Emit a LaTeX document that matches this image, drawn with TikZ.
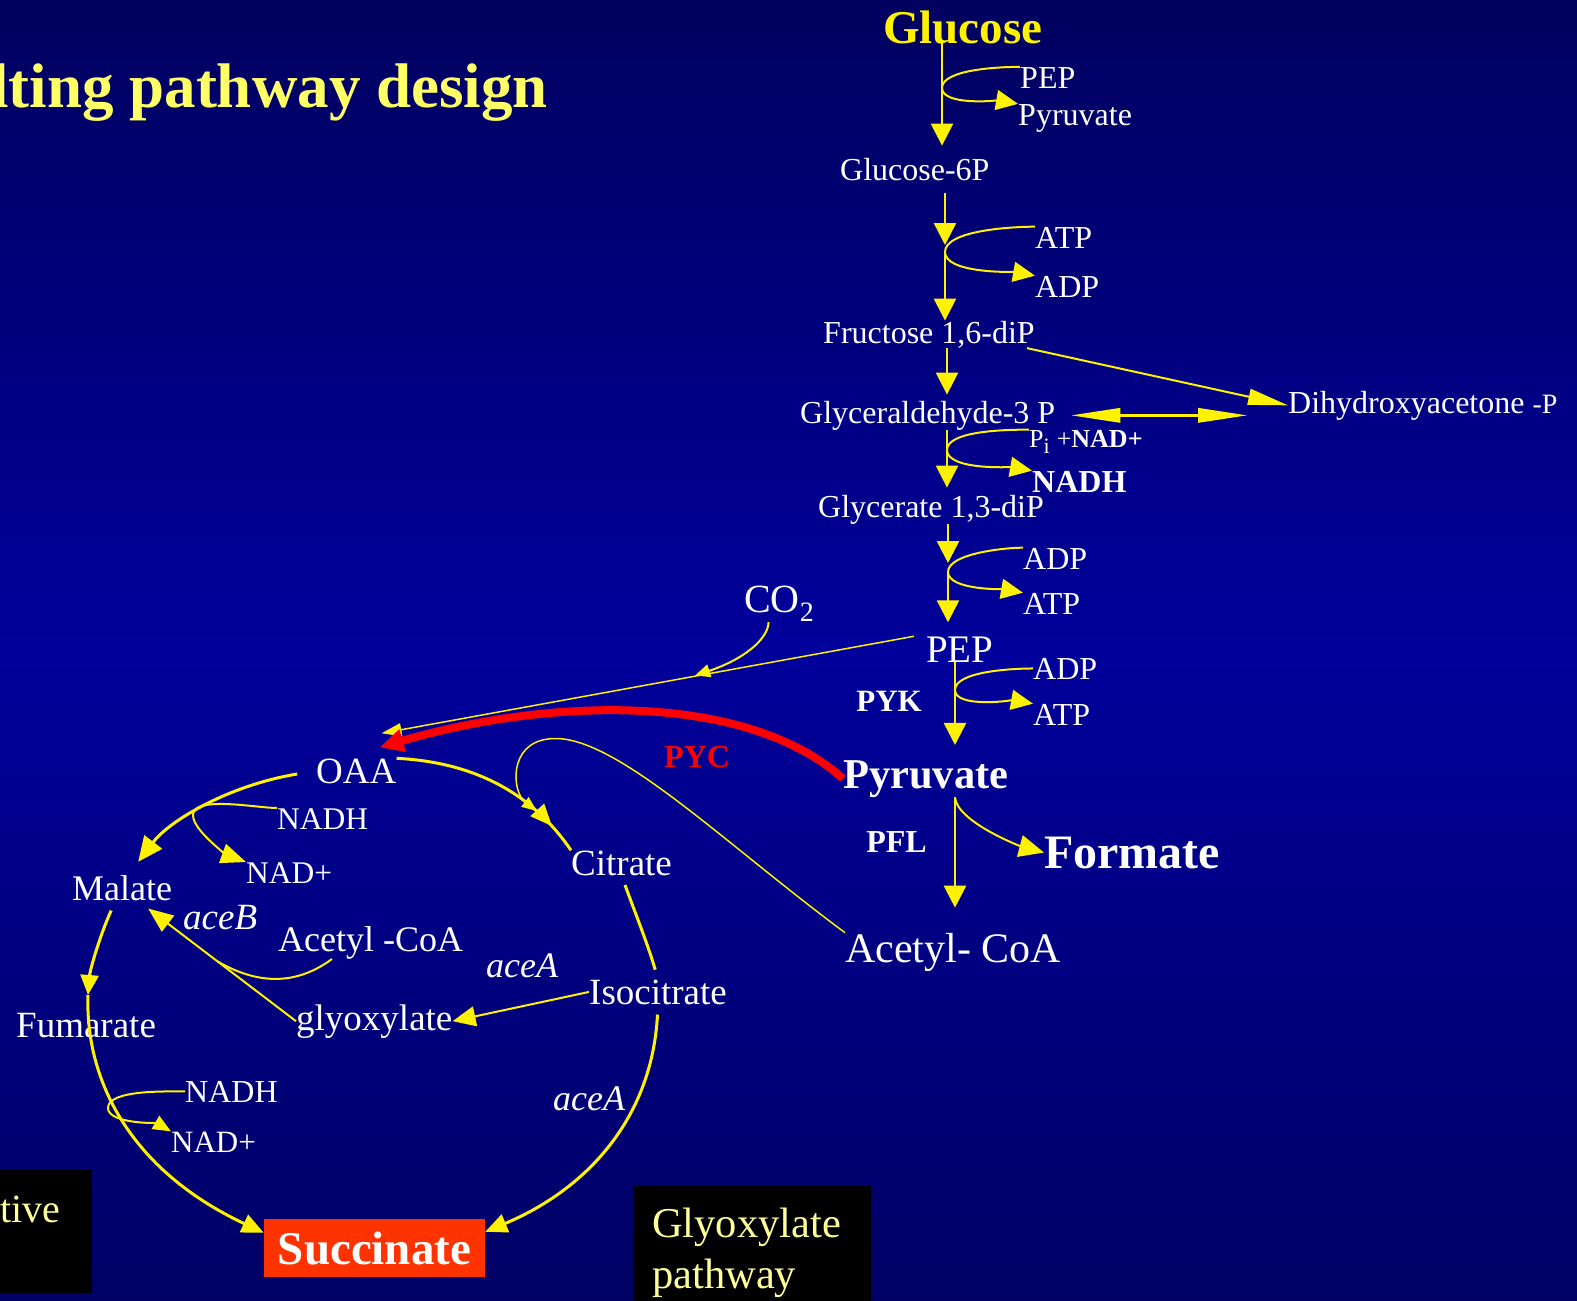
\documentclass[tikz,border=0pt]{standalone}
\usepackage{fontspec}
\setmainfont{Liberation Serif}
\usepackage{xcolor}
\usepackage{tikz}
\usetikzlibrary{arrows.meta,decorations.markings}
\definecolor{bgtop}{RGB}{0,0,95}
\definecolor{bgmid}{RGB}{0,0,155}
\definecolor{bgbot}{RGB}{0,0,100}
\definecolor{ttl}{RGB}{255,255,102}
\definecolor{boxtext}{RGB}{255,255,153}
\definecolor{succred}{RGB}{255,51,0}

\begin{document}
\begin{tikzpicture}[x=1pt,y=1pt,
	lbl/.style={font=\fontsize{#1}{#1}\selectfont,text=white,inner sep=0pt,anchor=base west},
	bld/.style={font=\fontsize{#1}{#1}\selectfont\bfseries,text=white,inner sep=0pt,anchor=base west},
	gene/.style={font=\fontsize{#1}{#1}\selectfont\itshape,text=white,inner sep=0pt,anchor=base west},
	flow/.style={yellow,line width=2.5pt,-{Triangle[length=22pt,width=22pt]}},
	side/.style={yellow,line width=2pt,looseness=0.6,-{Triangle[length=22pt,width=20pt]}},
	fine/.style={yellow,line width=1.5pt},
	cyc/.style={yellow,line width=3pt,-{Triangle[length=22pt,width=19pt]}},
	midtip/.style={postaction={decorate},decoration={markings,mark=at position #1 with {\arrow{Triangle[length=22pt,width=18pt]}}}}]
	\useasboundingbox (0,0) rectangle (1577,-1301);
	\shade[top color=bgtop,bottom color=bgbot,middle color=bgmid] (0,0) rectangle (1577,-1301);

	% title and boxes
	\node[bld=63,text=ttl] (title) at (-9,-107) {lting pathway design};
	\node[fill=black,minimum width=92pt,minimum height=123pt,inner sep=0pt,anchor=north west] (altbox) at (0,-1170) {};
	\node[lbl=40,text=boxtext] (alt) at (0,-1222) {tive};
	\node[fill=black,minimum width=238pt,minimum height=130pt,inner sep=0pt,anchor=north west] (gbox) at (633,-1186) {};
	\node[lbl=42.5,text=boxtext] (glyA) at (652,-1237) {Glyoxylate};
	\node[lbl=42.5,text=boxtext] (glyB) at (652,-1288) {pathway};

	% glycolysis
	\node[bld=47,text=yellow] (glc) at (883,-43) {Glucose};
	\node[lbl=32] (pep1) at (1020,-88) {PEP};
	\node[lbl=32] (pyr1) at (1018,-125) {Pyruvate};
	\node[lbl=32] (g6p) at (840,-180) {Glucose-6P};
	\node[lbl=32] (atp1) at (1035,-248) {ATP};
	\node[lbl=32] (adp1) at (1035,-297) {ADP};
	\node[lbl=32] (f16) at (823,-343) {Fructose 1,6-diP};
	\node[lbl=32] (g3p) at (800,-423) {Glyceraldehyde-3 P};
	\node[lbl=32] (dhap) at (1288,-413) {Dihydroxyacetone {\fontsize{28}{28}\selectfont -P}};
	\node[lbl=26] (pinad) at (1029,-447) {P\textsubscript{\fontsize{22}{22}\selectfont i} +\textbf{NAD+}};
	\node[bld=32] (nadh1) at (1032,-492) {NADH};
	\node[lbl=32] (gly13) at (818,-517) {Glycerate 1,3-diP};
	\node[lbl=32] (adp2) at (1023,-569) {ADP};
	\node[lbl=32] (atp2) at (1023,-614) {ATP};
	\node[lbl=40] (co2) at (744,-612) {CO\textsubscript{2}};
	\node[lbl=39] (pep2) at (926,-662) {PEP};
	\node[lbl=32] (adp3) at (1033,-679) {ADP};
	\node[lbl=32] (atp3) at (1033,-725) {ATP};
	\node[bld=42.5] (pyr2) at (843,-788) {Pyruvate};
	\node[bld=32,text=red] (pyc) at (664,-767) {PYC};
	\node[bld=48] (form) at (1044,-868) {Formate};
	\node[lbl=42] (acoa) at (845,-962) {Acetyl- CoA};

	% cycle
	\node[lbl=37] (oaa) at (316,-783) {OAA};
	\node[lbl=37] (cit) at (571,-875) {Citrate};
	\node[lbl=31.5] (nadh2) at (277,-829) {NADH};
	\node[lbl=31.5] (nadp2) at (246,-883) {NAD+};
	\node[lbl=36] (mal) at (72,-900) {Malate};
	\node[gene=37] (aceb) at (183,-929) {aceB};
	\node[lbl=36] (acoa2) at (278,-951) {Acetyl -CoA};
	\node[gene=36] (aceaA) at (486,-977) {aceA};
	\node[lbl=37] (isoc) at (589,-1004) {Isocitrate};
	\node[lbl=37] (glyox) at (296,-1030) {glyoxylate};
	\node[lbl=37] (fum) at (16,-1037) {Fumarate};
	\node[lbl=32] (nadh3) at (185,-1102) {NADH};
	\node[gene=36] (aceaB) at (553,-1110) {aceA};
	\node[lbl=31] (nadp3) at (171,-1152) {NAD+};
	\node[bld=47,fill=succred,anchor=center,minimum width=221pt,minimum height=58pt] (succ) at (374.5,-1248) {Succinate};

	\coordinate (j1) at (942,-88);
	\coordinate (j2) at (945,-252);
	\coordinate (j3) at (947,-450);
	\coordinate (j4) at (948,-572);
	\coordinate (j5) at (955,-690);
	\coordinate (j6) at (193,-815);
	\coordinate (j7) at (88,-995);
	\coordinate (j8) at (108,-1108);

	\path[flow]
	(glc.base -| j1) edge[shorten >=12pt] (g6p.north -| j1)
	(g6p.south -| j2) edge[shorten <=12pt,shorten >=7pt] (j2)
	(j2) edge (f16.north -| j2)
	(f16.south -| j3) edge[shorten >=6pt] (g3p.north -| j3)
	(g3p.south -| j3) edge[shorten >=7pt] (gly13.north -| j3)
	(gly13.south -| j4) edge[shorten >=9pt] (j4)
	(j4) edge[shorten >=14pt] (pep2.north -| j4)
	(pep2.south -| j5) edge[shorten >=15pt] node[bld=31,left=32pt,pos=0.4] (pyk) {PYK} (pyr2.north -| j5)
	(pyr2.south -| j5) edge[shorten >=25pt] node[bld=32,left=27pt,pos=0.33] (pfl) {PFL} (acoa.north -| j5);

	\draw[side] (pep1.north west) to[out=180,in=90] (j1) to[out=-90,in=170] (pyr1.north west);
	\draw[side] (atp1.north west) to[out=180,in=90] (j2) to[out=-90,in=170] (adp1.north west);
	\draw[side] (pinad.north west) to[out=180,in=90] (j3) to[out=-90,in=170] (nadh1.north west);
	\draw[side] (adp2.north west) to[out=180,in=90] (j4) to[out=-90,in=170] (atp2.north west);
	\draw[side] (adp3.west) to[out=180,in=90] (j5) to[out=-90,in=170] (atp3.north west);
	\draw[side,-{Triangle[length=25pt,width=22pt]}] (pyr2.south -| j5) to[out=-85,in=165] (form.west);

	\draw[fine,line width=2pt,-{Triangle[length=40pt,width=16pt]}] ([xshift=-8pt]f16.south east) -- (dhap.west);
	\draw[yellow,line width=3.5pt,{Triangle[length=50pt,width=14pt]}-{Triangle[length=50pt,width=14pt]},shorten <=15pt,shorten >=40pt] (g3p.east) -- (g3p.east -| dhap.west);

	\draw[fine,-{Triangle[length=20pt,width=13pt]}] ([xshift=-12pt]pep2.north west) -- coordinate[pos=0.42] (co2in) ([shift={(-15,25)}]oaa.north east);
	\draw[fine,line width=2pt,shorten >=5pt,-{Triangle[length=15pt,width=13pt]}] (co2.240) .. controls (768,-640) and (742,-660) .. (co2in);
	\draw[red,line width=8pt,-{Triangle[length=24pt,width=22pt]}] (pyr2.west) .. controls (750,-695) and (560,-695) .. ([shift={(-17,11)}]oaa.north east);

	% cycle arrows
	\draw[cyc,-,midtip=0.85] (oaa.north east) .. controls (470,-762) and (530,-790) .. coordinate[pos=0.75] (citin) (cit.north west);
	\draw[fine,-{Triangle[length=15pt,width=12pt]}] (acoa.north west) .. controls (720,-840) and (610,-730) .. (548,-739) .. controls (508,-744) and (512,-792) .. (citin);
	\draw[cyc,-,shorten <=10pt,shorten >=10pt] (cit.south) .. controls (636,-915) and (648,-945) .. (isoc.north);
	\draw[cyc,shorten <=10pt] (isoc.south) .. controls (652,-1120) and (585,-1190) .. ([yshift=-13pt]succ.north east);
	\draw[fine,line width=2pt,-{Triangle[length=23pt,width=20pt]}] (isoc.west) -- (glyox.east);
	\draw[cyc,-{Triangle[length=25pt,width=22pt]},shorten <=19pt] (oaa.west) .. controls (230,-785) and (170,-820) .. ([shift={(16,13)}]mal.north);
	\draw[side,-{Triangle[length=25pt,width=20pt]}] (nadh2.north west) to[out=180,in=90] (j6) to[out=-90,in=160] (nadp2.north west);
	\draw[cyc,-{Triangle[length=20pt,width=18pt]}] ([shift={(-11,-10)}]mal.south) .. controls (100,-935) and (90,-970) .. (j7);
	\draw[cyc] (j7) .. controls (85,-1080) and (130,-1170) .. ([yshift=-14pt]succ.north west);
	\draw[side,-{Triangle[length=18pt,width=15pt]}] (nadh3.west) to[out=180,in=90] (j8) to[out=-90,in=150] (nadp3.north west);
	\draw[fine,line width=2pt,-{Triangle[length=25pt,width=20pt]}] (glyox.west) -- coordinate[pos=0.53] (glin) ([shift={(26,-8)}]mal.south);
	\draw[fine,line width=2pt] ([xshift=54pt]acoa2.south west) .. controls (290,-990) and (250,-980) .. (glin);
\end{tikzpicture}
\end{document}
